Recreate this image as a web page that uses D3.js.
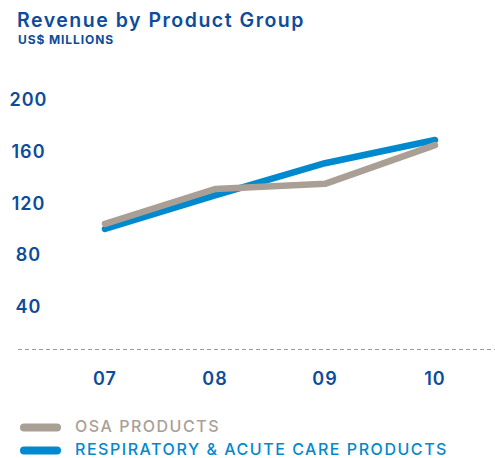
<!DOCTYPE html>
<html>
<head>
<meta charset="utf-8">
<script src="https://cdn.jsdelivr.net/npm/d3@7"></script>
<style>
  body { margin: 0; background: #fff; }
  text { font-family: Inter, "Open Sans", sans-serif; }
</style>
</head>
<body>
<script>
// chart data
var years = ["07", "08", "09", "10"];
var osaValues = [104, 131, 135, 165];
var respValues = [100, 126, 151, 169];
var yTicks = [40, 80, 120, 160, 200];
var seriesNames = ["OSA PRODUCTS", "RESPIRATORY & ACUTE CARE PRODUCTS"];
var seriesColors = ["#aa9f95", "#0089cf"];

var w = 495, h = 458;
var navy = "#0d4c9c";

var svg = d3.select("body").append("svg")
  .attr("width", w)
  .attr("height", h);

// stretch a text out to the width it has in the original (wide font there)
function fitWidth(sel, target) {
  sel.each(function() {
    var n = this.textContent.length;
    var len = this.getComputedTextLength();
    var ls = (target - len) / n;
    if (ls > 0) d3.select(this).attr("letter-spacing", ls);
  });
}

// title
svg.append("text")
  .attr("x", 17).attr("y", 27)
  .attr("fill", navy)
  .attr("font-size", 19.5)
  .attr("font-weight", 600)
  .text("Revenue by Product Group")
  .call(fitWidth, 288);

svg.append("text")
  .attr("x", 18).attr("y", 43.5)
  .attr("fill", navy)
  .attr("font-size", 12)
  .attr("font-weight", 700)
  .text("US$ MILLIONS")
  .call(fitWidth, 96);

var x = d3.scalePoint()
  .domain(years)
  .range([105, 435]);

var y = d3.scaleLinear()
  .domain([0, 200])
  .range([358, 100]);

// y labels
svg.selectAll(".ylab")
  .data(yTicks)
  .enter().append("text")
  .attr("class", "ylab")
  .attr("x", 28.5)
  .attr("y", function(d) { return y(d); })
  .attr("dy", "0.36em")
  .attr("text-anchor", "middle")
  .attr("fill", navy)
  .attr("font-size", 18)
  .attr("font-weight", 600)
  .attr("letter-spacing", 1)
  .text(function(d) { return d; });

// dashed baseline
svg.append("line")
  .attr("x1", 18).attr("x2", w)
  .attr("y1", 349.5).attr("y2", 349.5)
  .attr("stroke", "#999")
  .attr("stroke-width", 1)
  .attr("stroke-dasharray", "4,3");

// x labels
svg.selectAll(".xlab")
  .data(years)
  .enter().append("text")
  .attr("class", "xlab")
  .attr("x", function(d) { return x(d); })
  .attr("y", 385)
  .attr("text-anchor", "middle")
  .attr("fill", navy)
  .attr("font-size", 18)
  .attr("font-weight", 600)
  .attr("letter-spacing", 1)
  .text(function(d) { return d; });

var line = d3.line()
  .x(function(d, i) { return x(years[i]); })
  .y(function(d) { return y(d); });

// blue drawn first, grey on top
[respValues, osaValues].forEach(function(vals, k) {
  svg.append("path")
    .datum(vals)
    .attr("d", line)
    .attr("fill", "none")
    .attr("stroke", k === 0 ? seriesColors[1] : seriesColors[0])
    .attr("stroke-width", 6.5)
    .attr("stroke-linecap", "round")
    .attr("stroke-linejoin", "round");
});

// legend
var leg = svg.selectAll(".leg")
  .data(seriesNames)
  .enter().append("g")
  .attr("class", "leg")
  .attr("transform", function(d, i) { return "translate(0," + (427.5 + i * 23) + ")"; });

leg.append("line")
  .attr("x1", 24).attr("x2", 57)
  .attr("stroke", function(d, i) { return seriesColors[i]; })
  .attr("stroke-width", 8)
  .attr("stroke-linecap", "round");

leg.append("text")
  .attr("x", 75)
  .attr("y", 4.5)
  .attr("fill", function(d, i) { return seriesColors[i]; })
  .attr("font-size", 16)
  .attr("font-weight", 500)
  .text(function(d) { return d; });

fitWidth(leg.filter(function(d, i) { return i === 0; }).select("text"), 145);
fitWidth(leg.filter(function(d, i) { return i === 1; }).select("text"), 373);
</script>
</body>
</html>
